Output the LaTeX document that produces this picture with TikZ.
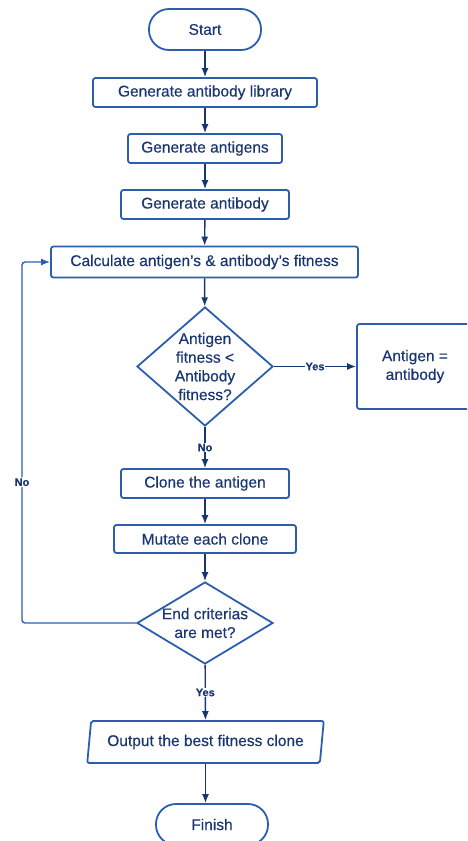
\documentclass[tikz,border=0pt]{standalone}
\usepackage{fontspec}
\setmainfont{Liberation Sans}[FakeBold=0.4]
\usetikzlibrary{arrows.meta,shapes.geometric}
\definecolor{boxblue}{HTML}{2B5FAE}
\definecolor{inkblue}{HTML}{1A3672}
\begin{document}
\begin{tikzpicture}[x=1pt,y=-1pt,
    every node/.style={font=\fontsize{15.5}{18.7}\selectfont,text=inkblue,inner sep=0pt},
    stepbox/.style={draw=boxblue,line width=1.8pt,rounded corners=2.5pt,minimum height=29pt},
    termbox/.style={draw=boxblue,line width=1.8pt,rounded corners=20pt,minimum width=112pt,minimum height=41pt},
    decide/.style={draw=boxblue,line width=1.8pt,diamond,inner sep=-2pt,align=center},
    iobox/.style={draw=boxblue,line width=1.8pt,trapezium,trapezium left angle=77,trapezium right angle=103,
        trapezium stretches=true,rounded corners=2pt,minimum width=237pt,minimum height=42pt},
    tag/.style={font=\fontsize{11}{12}\bfseries,fill=white,inner sep=1pt},
    flow/.style={draw=inkblue,line width=1.4pt,-{Latex[length=9pt,width=7pt]}}]
\useasboundingbox (0,0) rectangle (467,841);
\clip (0,0) rectangle (467,841);
\node[termbox] (start) at (205,29.5) {Start};
\node[stepbox,minimum width=224pt] (library) at (205,92.5) {Generate antibody library};
\node[stepbox,minimum width=154pt] (antigens) at (205,148.5) {Generate antigens};
\node[stepbox,minimum width=168pt] (antibody) at (205,204.5) {Generate antibody};
\node[stepbox,minimum width=307pt,minimum height=31pt] (fitness) at (204.5,262) {Calculate antigen's \& antibody's fitness};
\node[decide,aspect=1.14,minimum width=136pt,minimum height=119pt] (compare) at (205,366.5) {Antigen\\fitness <\\Antibody\\fitness?};
\node[stepbox,minimum width=116pt,minimum height=85pt,align=center] (equal) at (415,366.5) {Antigen =\\antibody};
\node[stepbox,minimum width=168pt] (clone) at (205,483.5) {Clone the antigen};
\node[stepbox,minimum width=182pt,minimum height=28pt] (mutate) at (205,539) {Mutate each clone};
\node[decide,aspect=1.66,inner sep=-1pt,minimum width=136pt,minimum height=82pt] (criteria) at (205,623) {End criterias\\are met?};
\node[iobox] (output) at (205.5,742) {Output the best fitness clone};
\node[termbox] (finish) at (212,824.5) {Finish};
\coordinate (loopbottom) at (22,623);
\coordinate (looptop) at (22,262);
\draw[flow] (start) -- (library);
\draw[flow] (library) -- (antigens);
\draw[flow] (antigens) -- (antibody);
\draw[flow] (antibody) -- (fitness);
\draw[flow] (fitness) -- (compare);
\draw[flow] (compare) -- node[tag] {Yes} (equal);
\draw[flow] (compare) -- node[tag] {No} (clone);
\draw[flow] (clone) -- (mutate);
\draw[flow] (mutate) -- (criteria);
\draw[flow] (criteria) -- node[tag] {Yes} (output);
\draw[flow] (output.south) -- (output.south |- finish.north);
% loop back when the criteria fail
\draw[flow,draw=boxblue,rounded corners=3pt] (criteria.west) -- (loopbottom) -- node[tag,pos=0.39] {No} (looptop) -- (fitness.west);
\end{tikzpicture}
\end{document}
